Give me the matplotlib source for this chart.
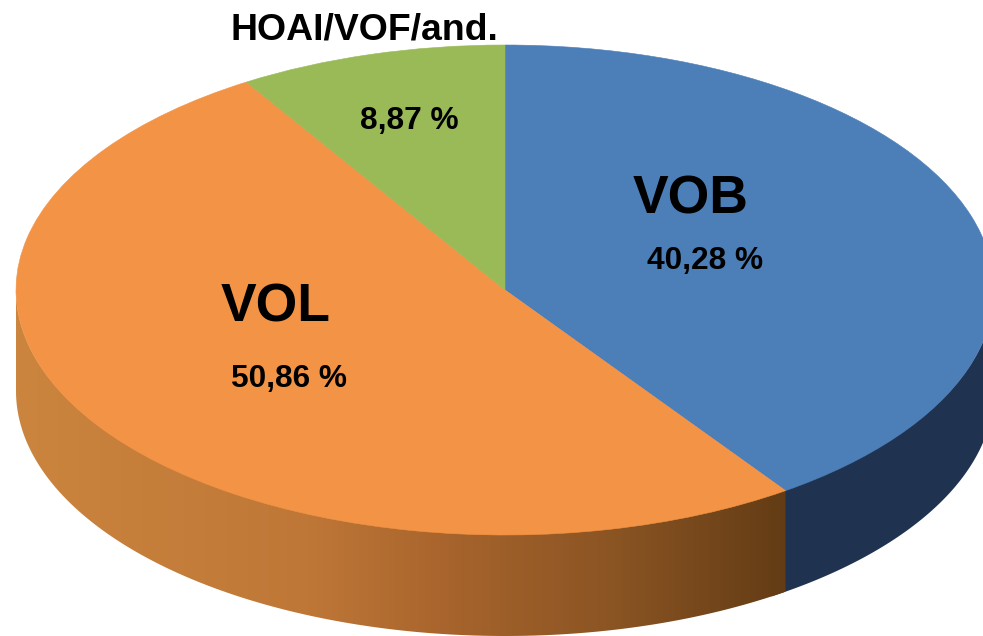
import numpy as np
import matplotlib
matplotlib.use("Agg")
import matplotlib.pyplot as plt
from matplotlib.colors import LinearSegmentedColormap
from matplotlib.patches import Polygon

plt.rcParams['font.family'] = ['Liberation Sans', 'DejaVu Sans']

categories = ["VOB", "VOL", "HOAI/VOF/and."]
values = [40.28, 50.86, 8.87]
value_labels = ["40,28 %", "50,86 %", "8,87 %"]

W, H = 983, 636
CX, CY = 505, 290    # pie centre in pixels
RX, RY = 489, 245    # ellipse radii in pixels
DEPTH = 101 / RY     # height of the rim


def fig_xy(px, py):
    return px / W, 1 - py / H


fig = plt.figure(figsize=(W / 100, H / 100), dpi=100)
ax = fig.add_axes([0, 0, 1, 1])

# Top surface
wedges, _ = ax.pie(values, startangle=90, counterclock=False, radius=1,
                   colors=["#4C7EB8", "#F39345", "#9ABA58"],
                   wedgeprops=dict(zorder=3))
# edge in the face colour so no white seams show
for w in wedges:
    w.set_edgecolor(w.get_facecolor())
    w.set_linewidth(0.4)
ax.set_aspect('auto')
ax.axis('off')

# Rim: angle where blue ends, the rim only shows below the horizontal
blue_end = 90 - values[0] / sum(values) * 360


def rim(t0, t1):
    t = np.radians(np.linspace(t0, t1, 200))
    x, y = np.cos(t), np.sin(t)
    # top edge pulled up a little so it sits under the wedges
    return np.r_[np.c_[x, y * 0.995], np.c_[x[::-1], y[::-1] - DEPTH]]


# Blue rim runs on a bit under the orange one
ax.add_patch(Polygon(rim(0, blue_end - 2), closed=True, fc="#1F3350", ec="none", zorder=1))

# Orange rim with a left to right gradient
rim_cmap = LinearSegmentedColormap.from_list(
    "rim", [(0.0, "#CB853E"), (0.38, "#BF7737"), (0.55, "#A9652D"),
            (0.78, "#8A5423"), (1.0, "#633C15")])
x_left, x_right = -1, np.cos(np.radians(blue_end))
orange_rim = Polygon(rim(blue_end, -180), closed=True, fc="none", ec="none",
                     transform=ax.transData)
ax.add_patch(orange_rim)
im = ax.imshow(np.linspace(0, 1, 256)[None, :], cmap=rim_cmap, aspect='auto',
               extent=[x_left, x_right, -1 - DEPTH, 0], zorder=2)
im.set_clip_path(orange_rim)
ax.set_aspect('auto')
ax.set_xlim((0 - CX) / RX, (W - CX) / RX)
ax.set_ylim((CY - H) / RY, (CY - 0) / RY)

# Labels
fig.text(*fig_xy(691, 199), categories[0], fontsize=38.5, fontweight='bold',
         ha='center', va='center', color='black')
fig.text(*fig_xy(705, 261), value_labels[0], fontsize=22.8, fontweight='bold',
         ha='center', va='center', color='black')
fig.text(*fig_xy(276, 308), categories[1], fontsize=38.5, fontweight='bold',
         ha='center', va='center', color='black')
fig.text(*fig_xy(289, 379), value_labels[1], fontsize=22.8, fontweight='bold',
         ha='center', va='center', color='black')
fig.text(*fig_xy(364, 30), categories[2], fontsize=26.9, fontweight='bold',
         ha='center', va='center', color='black')
fig.text(*fig_xy(409, 121), value_labels[2], fontsize=22.8, fontweight='bold',
         ha='center', va='center', color='black')

fig.savefig("out.png", dpi=100)
